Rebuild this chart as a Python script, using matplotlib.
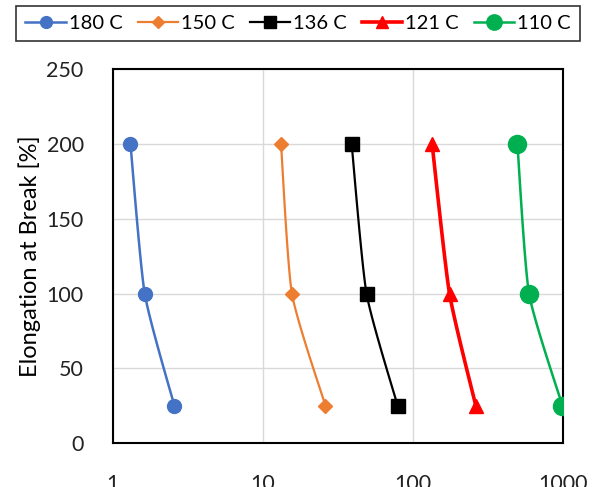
import numpy as np
import matplotlib.pyplot as plt

plt.rcParams['font.family'] = ['Lato', 'DejaVu Sans']

# data
elongation = [200, 100, 25]
t180 = [1.31, 1.63, 2.57]
t150 = [13.2, 15.6, 26.1]
t136 = [39, 49, 79]
t121 = [134, 175, 262]
t110 = [496, 593, 990]

labels = ['180 C', '150 C', '136 C', '121 C', '110 C']
colors = ['#4472C4', '#ED7D31', '#000000', '#FF0000', '#00B050']
markers = ['o', 'D', 's', '^', 'o']
msizes = [10, 7, 9.5, 9.5, 13]
lwidths = [1.8, 1.6, 1.6, 2.6, 1.8]


def smooth(x, y, n=40, k=0.3):
    # Hermite curve in log-x / pixel space, like Excel's smoothed line
    p = np.column_stack([np.log10(x) * 150.0, np.array(y) * 1.5])
    m = len(p)
    tang = np.zeros_like(p)
    for i in range(m):
        a = p[max(i - 1, 0)]
        b = p[min(i + 1, m - 1)]
        tang[i] = k * (b - a)
    t = np.linspace(0, 1, n)[:, None]
    h00 = 2 * t ** 3 - 3 * t ** 2 + 1
    h10 = t ** 3 - 2 * t ** 2 + t
    h01 = -2 * t ** 3 + 3 * t ** 2
    h11 = t ** 3 - t ** 2
    out = [h00 * p[i] + h10 * tang[i] + h01 * p[i + 1] + h11 * tang[i + 1] for i in range(m - 1)]
    c = np.vstack(out)
    return 10 ** (c[:, 0] / 150.0), c[:, 1] / 1.5


fig = plt.figure(figsize=(5.94, 4.87), dpi=100)
ax = fig.add_axes([0.190, 0.090, 0.758, 0.768])

handles = []
for xs, lab, col, mk, ms, lw in zip([t180, t150, t136, t121, t110], labels, colors, markers, msizes, lwidths):
    sx, sy = smooth(xs, elongation)
    ax.plot(sx, sy, color=col, linewidth=lw, zorder=3)
    ax.plot(xs, elongation, linestyle='none', marker=mk, color=col, markersize=ms, zorder=4)
    h, = ax.plot([], [], color=col, linewidth=lw, marker=mk, markersize=ms * 0.85, label=lab)
    handles.append(h)

ax.set_xscale('log')
ax.set_xlim(1, 1000)
ax.set_ylim(0, 250)
ax.set_yticks([0, 50, 100, 150, 200, 250])
ax.set_xticks([1, 10, 100, 1000])
ax.set_xticklabels(['1', '10', '100', '1000'])
ax.minorticks_off()
ax.tick_params(axis='both', length=0, labelsize=15.5, colors='#222222')
ax.tick_params(axis='x', pad=22)
ax.tick_params(axis='y', pad=21)
ax.grid(True, color='#d9d9d9', linewidth=1)
ax.set_axisbelow(True)
for s in ax.spines.values():
    s.set_color('black')
    s.set_linewidth(1.5)
ax.set_ylabel('Elongation at Break [%]', fontsize=17, labelpad=4)

leg = fig.legend(handles=handles, loc='upper center', bbox_to_anchor=(0.502, 0.988), ncol=5,
                 frameon=True, fancybox=False, fontsize=14.5, handlelength=2.0,
                 handletextpad=0.15, columnspacing=0.75, borderpad=0.45, borderaxespad=0)
leg.get_frame().set_edgecolor('black')
leg.get_frame().set_linewidth(1.2)

fig.savefig('out.png', dpi=100)
